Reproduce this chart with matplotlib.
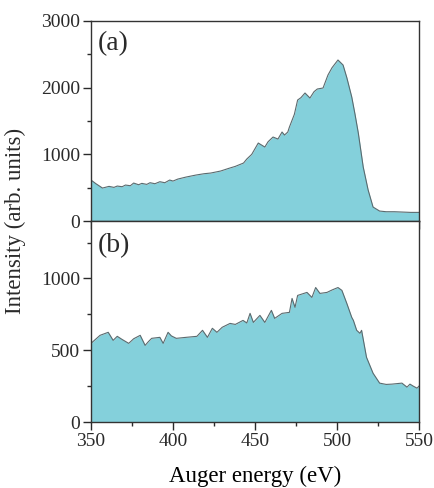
import numpy as np
import matplotlib
matplotlib.use('agg')
import matplotlib.pyplot as plt
from matplotlib.ticker import MultipleLocator

plt.rcParams['font.family'] = ['Liberation Serif', 'DejaVu Serif']
plt.rcParams['text.color'] = '#2a2a2a'
plt.rcParams['xtick.color'] = '#2a2a2a'
plt.rcParams['ytick.color'] = '#2a2a2a'

# spectrum (a)
energy_a = [350, 353, 357, 361, 364, 366, 369, 371, 374, 376, 379, 381, 384, 386,
            389, 392, 395, 398, 400, 403, 408, 414,
            419, 423, 429, 434, 438, 443, 445, 448, 452, 456, 458, 461, 464, 466.5,
            468, 470, 471, 474, 476, 478, 480.5, 483.5, 486, 488, 491.5, 494.5, 497,
            500.6, 503.7, 506, 509, 511, 513, 516, 519, 522, 526, 530, 535, 540, 545, 550]
inten_a = [615, 560, 495, 520, 505, 525, 515, 540, 530, 570, 545, 565, 550, 575,
           560, 590, 575, 615, 600, 630, 660, 690,
           710, 720, 750, 790, 820, 870, 930, 1000, 1170, 1110, 1190, 1260, 1230, 1335,
           1290, 1335, 1410, 1600, 1815, 1850, 1920, 1845, 1940, 1980, 1995, 2190, 2300,
           2415, 2340, 2150, 1860, 1600, 1320, 810, 465, 210, 150, 140, 140, 135, 130, 130]

# spectrum (b)
energy_b = [350, 355.5, 360.5, 363.5, 366, 369, 373, 376, 380, 383, 385, 387, 392, 394,
            397, 399, 402, 408, 414.6, 418, 421, 424, 426.8, 430, 434.8, 438, 442.7,
            445, 447, 449, 453, 456, 460, 462, 466.5, 471, 472.6, 474.4, 476, 481.7,
            484.7, 487, 489.6, 493.9, 497, 500.6, 503, 506, 509, 510, 512, 514, 515,
            518, 522, 526, 530, 533.5, 537, 539.6, 542.7, 544.5, 546.5, 548.8, 550]
inten_b = [548, 604, 625, 569, 597, 575, 548, 580, 604, 534, 560, 583, 590, 548,
           625, 600, 583, 590, 597, 639, 590, 653, 625, 660, 687, 680, 708,
           690, 757, 694, 743, 694, 778, 722, 757, 764, 861, 799, 882, 903,
           868, 937, 896, 903, 920, 937, 917, 826, 729, 708, 639, 618, 639,
           451, 340, 271, 262, 264, 268, 271, 243, 264, 250, 236, 250]

fill_col = '#84d0db'
edge_col = '#5a6a6e'

fig = plt.figure(figsize=(4.34, 4.88), dpi=100)
ax1 = fig.add_axes([0.2097, 0.547, 0.7557, 0.410])
ax2 = fig.add_axes([0.2097, 0.1352, 0.7557, 0.4118], sharex=ax1)

for ax, e, v in [(ax1, energy_a, inten_a), (ax2, energy_b, inten_b)]:
    ax.fill_between(e, v, 0, color=fill_col, lw=0)
    ax.plot(e, v, color=edge_col, lw=0.8)
    ax.xaxis.set_major_locator(MultipleLocator(50))
    ax.xaxis.set_minor_locator(MultipleLocator(25))
    ax.tick_params(which='major', direction='out', length=5.5, width=1,
                   labelsize=14, pad=2.5)
    ax.tick_params(which='minor', direction='out', length=3, width=1)
    for s in ax.spines.values():
        s.set_linewidth(1)
        s.set_color('#333333')

ax1.set_xlim(350, 550)
ax1.set_ylim(0, 3000)
ax1.yaxis.set_major_locator(MultipleLocator(1000))
ax1.yaxis.set_minor_locator(MultipleLocator(500))
ax1.tick_params(labelbottom=False)

ax2.set_ylim(0, 1400)
ax2.yaxis.set_major_locator(MultipleLocator(500))
ax2.yaxis.set_minor_locator(MultipleLocator(250))

ax1.text(0.02, 0.885, '(a)', transform=ax1.transAxes, fontsize=20, va='center')
ax2.text(0.02, 0.88, '(b)', transform=ax2.transAxes, fontsize=20, va='center')

ax2.set_xlabel('Auger energy (eV)', fontsize=16.5, labelpad=11)
fig.text(0.035, 0.547, 'Intensity (arb. units)', rotation=90, fontsize=16.5,
         va='center', ha='center')

fig.savefig('out.png', dpi=100)
